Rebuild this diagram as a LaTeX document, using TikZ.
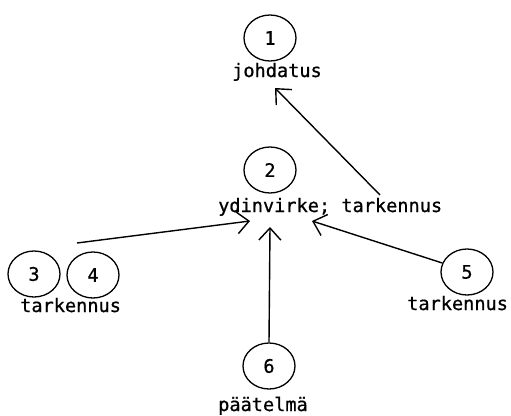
\documentclass[tikz,border=0pt]{standalone}
\usepackage{fontspec}
\newfontfamily\tw{DejaVu Sans Mono}[FakeBold=0.8]
\usetikzlibrary{shapes.geometric,arrows.meta}
\begin{document}
\begin{tikzpicture}[x=1pt,y=-1pt,
  bubble/.style={draw, ellipse, minimum width=52pt, minimum height=46pt, inner sep=0pt, line width=1.3pt, font=\tw\fontsize{18.6}{20}\selectfont},
  lbl/.style={anchor=base west, inner sep=0pt, font=\tw\fontsize{18.6}{20}\selectfont},
  arr/.style={line width=1.4pt, -{Straight Barb[length=12pt,width=22pt]}}]
\useasboundingbox (0,0) rectangle (511,415);

% numbered bubbles
\node[bubble] (c1) at (270,38) {1};
\node[bubble] (c2) at (270,170) {2};
\node[bubble] (c3) at (34,274) {3};
\node[bubble] (c4) at (93,275) {4};
\node[bubble] (c5) at (467,272) {5};
\node[bubble] (c6) at (269,366) {6};

% captions
\node[lbl] (l1) at (232,77) {johdatus};
\node[lbl] (l2) at (218,212) {ydinvirke; tarkennus};
\node[lbl] (l34) at (20,312) {tarkennus};
\node[lbl] (l5) at (407,310) {tarkennus};
\node[lbl] (l6) at (218,411) {päätelmä};

% arrow ends
\coordinate (a1s) at (380,195);
\coordinate (a1t) at (275,88);
\coordinate (a2s) at (77,243);
\coordinate (a2t) at (250,221);
\coordinate (a5t) at (312,221);
\coordinate (a6t) at (270,227);

\draw[arr] (a1s) -- (a1t);
\draw[arr] (a2s) -- (a2t);
\draw[arr] (c5.160) -- (a5t);
\draw[arr] (c6.north) -- (a6t);
\end{tikzpicture}
\end{document}
